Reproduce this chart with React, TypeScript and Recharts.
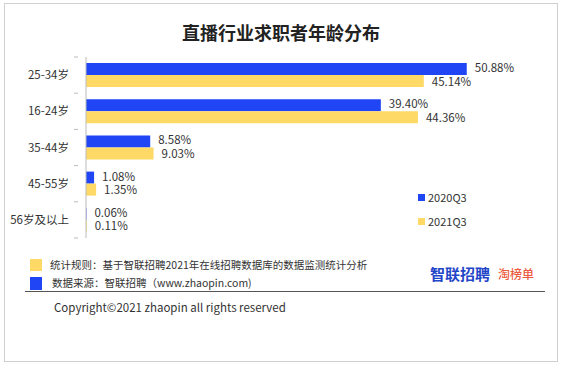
import React from 'react'
import { BarChart, Bar, XAxis, YAxis, LabelList } from 'recharts'

const ages = ['25-34岁', '16-24岁', '35-44岁', '45-55岁', '56岁及以上']
const q2020 = [50.88, 39.4, 8.58, 1.08, 0.06]
const q2021 = [45.14, 44.36, 9.03, 1.35, 0.11]
const seriesNames = ['2020Q3', '2021Q3']

const BLUE = '#1f45f5'
const YELLOW = '#ffd966'
const FONT = '"Noto Sans CJK SC", "Noto Sans", sans-serif'

const data = ages.map((age, i) => ({ age, q2020: q2020[i], q2021: q2021[i] }))

function AgeTick(props: any) {
  const { x, y, payload, index } = props
  const half = payload.offset || 18
  return (
    <g>
      <text x={x - 9} y={y} dy={4} textAnchor="end" fontSize={11.5} fill="#333" fontFamily={FONT}>
        {payload.value}
      </text>
      <line x1={x - 4} x2={x} y1={y - half} y2={y - half} stroke="#bbb" />
      {index === ages.length - 1 && <line x1={x - 4} x2={x} y1={y + half} y2={y + half} stroke="#bbb" />}
    </g>
  )
}

// value label placed just right of the bar end; shift nudges the pair apart
function makeLabel(shift: number) {
  return (props: any) => {
    const { x, y, width, height, value } = props
    return (
      <text
        x={x + width + 8}
        y={y + height / 2 + shift}
        dy={4}
        fontSize={11.5}
        fill="#333"
        fontFamily={FONT}
      >
        {`${Number(value).toFixed(2)}%`}
      </text>
    )
  }
}

export default function App() {
  const colors = [BLUE, YELLOW]
  return (
    <div style={{ position: 'fixed', left: 0, top: 0, width: 562, height: 368, background: '#fff', fontFamily: FONT }}>
      <div style={{ position: 'absolute', left: 4, top: 3, width: 552, height: 357, border: '1px solid #d0d0d0' }} />
      <div style={{ position: 'absolute', left: 0, top: 19, width: 562, textAlign: 'center', fontSize: 18, fontWeight: 'bold', color: '#222' }}>
        直播行业求职者年龄分布
      </div>
      <div style={{ position: 'absolute', left: 0, top: 0 }}>
        <BarChart
          width={562}
          height={368}
          data={data}
          layout="vertical"
          margin={{ top: 57, right: 27, bottom: 130, left: 0 }}
          barGap={0}
          barSize={12}
        >
          <XAxis type="number" domain={[0, 60]} hide />
          <YAxis
            type="category"
            dataKey="age"
            width={86}
            axisLine={{ stroke: '#bbb' }}
            tickLine={false}
            tick={<AgeTick />}
            interval={0}
          />
          <Bar dataKey="q2020" name="2020Q3" fill={BLUE} isAnimationActive={false}>
            <LabelList dataKey="q2020" content={makeLabel(-1)} />
          </Bar>
          <Bar dataKey="q2021" name="2021Q3" fill={YELLOW} isAnimationActive={false}>
            <LabelList dataKey="q2021" content={makeLabel(0.5)} />
          </Bar>
        </BarChart>
      </div>
      {seriesNames.map((n, i) => (
        <div
          key={n}
          style={{ position: 'absolute', left: 418, top: 189 + i * 24, display: 'flex', alignItems: 'center', fontSize: 11, color: '#333' }}
        >
          <span style={{ width: 7, height: 7, background: colors[i], marginRight: 3 }} />
          {n}
        </div>
      ))}
      <div style={{ position: 'absolute', left: 30, top: 259, width: 12, height: 12, background: YELLOW }} />
      <div style={{ position: 'absolute', left: 30, top: 277, width: 12, height: 13, background: BLUE }} />
      <div style={{ position: 'absolute', left: 50, top: 257, fontSize: 10.5, color: '#333', whiteSpace: 'nowrap' }}>
        统计规则：基于智联招聘2021年在线招聘数据库的数据监测统计分析
      </div>
      <div style={{ position: 'absolute', left: 52, top: 275, fontSize: 10.5, color: '#333', whiteSpace: 'nowrap' }}>
        数据来源：智联招聘（www.zhaopin.com)
      </div>
      <div style={{ position: 'absolute', left: 25, top: 291, width: 520, height: 1, background: '#555' }} />
      <div style={{ position: 'absolute', left: 54, top: 299, fontSize: 11.5, color: '#333', whiteSpace: 'nowrap' }}>
        Copyright©2021 zhaopin all rights reserved
      </div>
      <div style={{ position: 'absolute', left: 430, top: 263, fontSize: 15, fontWeight: 'bold', color: '#1f45c8', whiteSpace: 'nowrap' }}>
        智联招聘
      </div>
      <div style={{ position: 'absolute', left: 498, top: 265, fontSize: 12, fontWeight: 500, color: '#ec5a40', whiteSpace: 'nowrap' }}>
        淘榜单
      </div>
    </div>
  )
}
